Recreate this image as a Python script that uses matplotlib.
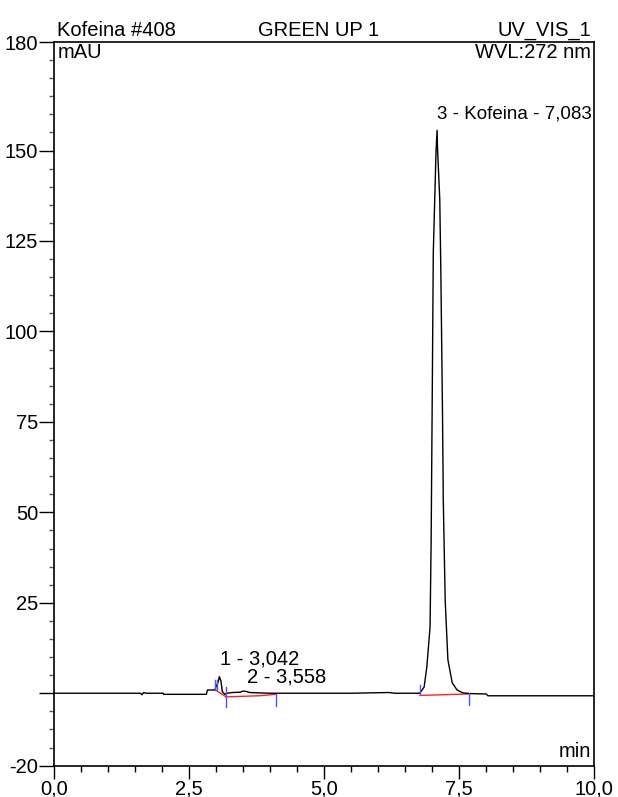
import matplotlib
matplotlib.use("Agg")
import matplotlib.pyplot as plt
from matplotlib.ticker import FixedLocator, MultipleLocator, NullFormatter

plt.rcParams['font.family'] = ['Liberation Sans', 'DejaVu Sans']

# ---- data ----
time_min = [0.00, 1.60, 1.63, 1.66, 1.70, 2.02, 2.03, 2.82, 2.84, 2.98, 3.00, 3.04,
            3.06, 3.09, 3.115, 3.165, 3.20, 3.30, 3.45, 3.50, 3.56, 3.62, 3.80, 4.00,
            4.10, 5.50, 6.20, 6.30, 6.77, 6.85, 6.90, 6.96, 6.98, 7.00, 7.02, 7.07,
            7.09, 7.10, 7.14, 7.16, 7.19, 7.205, 7.24, 7.29, 7.37, 7.46, 7.57, 7.70,
            8.00, 8.03, 10.00]
signal_mau = [0.0, 0.0, -0.4, 0.2, 0.0, 0.0, -0.3, -0.3, 0.9, 0.9, 1.8, 3.2,
              4.6, 3.4, 0.4, -0.3, 0.0, 0.2, 0.3, 0.6, 0.5, 0.2, 0.1, 0.0,
              0.0, 0.0, 0.2, 0.0, 0.0, 1.7, 7.2, 18.3, 41.6, 81.0, 121.8, 149.4,
              155.6, 150.0, 136.4, 116.2, 78.0, 53.4, 25.8, 9.3, 2.9, 0.9, 0.1, -0.1,
              -0.2, -0.7, -0.7]

peak_labels = ["1 - 3,042", "2 - 3,558", "3 - Kofeina - 7,083"]
peak_label_t = [3.07, 3.57, 7.09]
peak_label_v = [6.9, 1.9, 157.7]
peak_label_fs = [14.5, 14.5, 13.5]

# integration markers (blue) and baselines (red)
marker_t = [2.985, 3.015, 3.185, 4.11, 6.775, 7.68]
marker_top = [3.7, 3.7, 1.8, -0.2, 2.3, 0.1]
marker_bot = [0.9, 0.9, -3.7, -3.5, -0.5, -3.2]

base1_t = [2.99, 3.185]
base1_v = [0.9, -1.0]
base2_t = [3.185, 3.80, 4.11]
base2_v = [-1.0, -0.7, -0.3]
base3_t = [6.775, 7.68]
base3_v = [-0.6, -0.2]

x_ticks = [0.0, 2.5, 5.0, 7.5, 10.0]
x_ticklabels = ["0,0", "2,5", "5,0", "7,5", "10,0"]
y_ticks = [-20, 0, 25, 50, 75, 100, 125, 150, 180]
y_ticklabels = ["-20", "", "25", "50", "75", "100", "125", "150", "180"]

# ---- figure ----
fig = plt.figure(figsize=(6.18, 7.97), dpi=100)
ax = fig.add_axes([54/618, 1-765.6/797, (594.3-54)/618, (765.6-42)/797])

ax.plot(time_min, signal_mau, color='black', lw=1.0, zorder=3)
ax.plot(base1_t, base1_v, color='#ff2020', lw=1.0, zorder=2)
ax.plot(base2_t, base2_v, color='#ff2020', lw=1.0, zorder=2)
ax.plot(base3_t, base3_v, color='#ff2020', lw=1.0, zorder=2)
for t, top, bot in zip(marker_t, marker_top, marker_bot):
    ax.plot([t, t], [bot, top], color='#5050ff', lw=1.0, zorder=4)

for lab, t, v, f in zip(peak_labels, peak_label_t, peak_label_v, peak_label_fs):
    ax.text(t, v, lab, fontsize=f, ha='left', va='bottom', color='black')

ax.set_xlim(0, 10)
ax.set_ylim(-20, 180)

fs = 14.5
ax.xaxis.set_major_locator(FixedLocator(x_ticks))
ax.set_xticklabels(x_ticklabels)
ax.xaxis.set_minor_locator(MultipleLocator(0.5))
ax.yaxis.set_major_locator(FixedLocator(y_ticks))
ax.set_yticklabels(y_ticklabels)
ax.yaxis.set_minor_locator(MultipleLocator(5))
ax.yaxis.set_minor_formatter(NullFormatter())

ax.tick_params(axis='x', which='major', length=9, width=1.0, labelsize=fs, pad=1)
ax.tick_params(axis='x', which='minor', length=4.5, width=1.0)
ax.tick_params(axis='y', which='major', length=10.5, width=1.0, labelsize=fs, pad=1)
ax.tick_params(axis='y', which='minor', length=3.8, width=1.0, color='#555555')

for s in ax.spines.values():
    s.set_linewidth(1.2)

# header / annotations
ax.text(0.006, 1.003, "Kofeina #408", transform=ax.transAxes, fontsize=fs,
        ha='left', va='bottom')
ax.text(0.49, 1.003, "GREEN UP 1", transform=ax.transAxes, fontsize=fs,
        ha='center', va='bottom')
ax.text(0.994, 1.003, "UV_VIS_1", transform=ax.transAxes, fontsize=fs,
        ha='right', va='bottom')
ax.text(0.006, 0.998, "mAU", transform=ax.transAxes, fontsize=fs,
        ha='left', va='top')
ax.text(0.994, 0.998, "WVL:272 nm", transform=ax.transAxes, fontsize=fs,
        ha='right', va='top')
ax.text(0.994, 0.006, "min", transform=ax.transAxes, fontsize=fs,
        ha='right', va='bottom')

fig.savefig("out.png", dpi=100)
